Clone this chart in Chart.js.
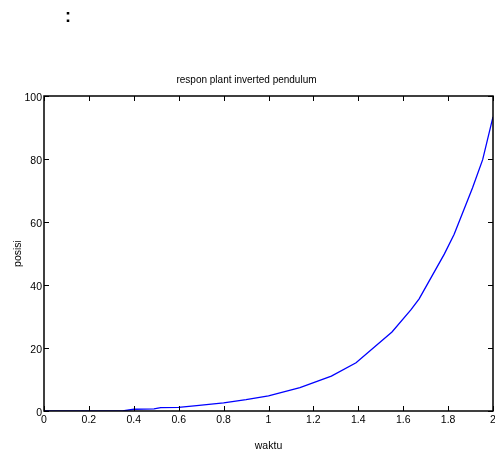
<!DOCTYPE html>
<html>
<head>
<meta charset="utf-8">
<script src="https://cdn.jsdelivr.net/npm/chart.js@4"></script>
<style>
  body { margin: 0; background: #fff; }
  #wrap { position: relative; width: 495px; height: 452px; }
  #colon { position: absolute; left: 65px; top: 6px; font: bold 18px 'Liberation Sans', Arial, sans-serif; color: #000; }
</style>
</head>
<body>
<div id="wrap">
  <div id="colon">:</div>
  <canvas id="chart1" width="495" height="452"></canvas>
</div>
<script>
/************* data ********* */
const waktu = [0, 0.1, 0.2, 0.3, 0.35, 0.4, 0.49, 0.52, 0.6, 0.68, 0.8, 0.9, 1.0, 1.14, 1.28, 1.39, 1.55, 1.634, 1.671, 1.783, 1.827, 1.909, 1.954, 2.0];
const posisi = [0, 0, 0, 0, 0, 0.55, 0.7, 1.05, 1.15, 1.7, 2.6, 3.6, 4.8, 7.4, 11.1, 15.3, 25.1, 32.1, 35.6, 49.8, 56.1, 70.9, 79.8, 93.4];
const xTicks = [0, 0.2, 0.4, 0.6, 0.8, 1, 1.2, 1.4, 1.6, 1.8, 2];
const yTicks = [0, 20, 40, 60, 80, 100];

const fontFam = "'Liberation Sans', Arial, sans-serif";
const points = waktu.map((t, i) => ({ x: t, y: posisi[i] }));

// matlab style box with inward ticks
const boxTicks = {
    id: 'boxTicks',
    afterDatasetsDraw(chart) {
        const ctx = chart.ctx;
        const a = chart.chartArea;
        const xs = chart.scales.x;
        const ys = chart.scales.y;
        const len = 5;
        ctx.save();
        ctx.strokeStyle = '#000';
        ctx.lineWidth = 1;
        ctx.beginPath();
        xTicks.forEach(v => {
            const px = Math.round(xs.getPixelForValue(v)) + 0.5;
            ctx.moveTo(px, a.bottom); ctx.lineTo(px, a.bottom - len);
            ctx.moveTo(px, a.top); ctx.lineTo(px, a.top + len);
        });
        yTicks.forEach(v => {
            const py = Math.round(ys.getPixelForValue(v)) + 0.5;
            ctx.moveTo(a.left, py); ctx.lineTo(a.left + len, py);
            ctx.moveTo(a.right, py); ctx.lineTo(a.right - len, py);
        });
        ctx.stroke();
        ctx.lineWidth = 1.5;
        ctx.strokeRect(a.left, a.top, a.right - a.left, a.bottom - a.top);
        ctx.restore();
    }
};

new Chart("chart1", {
    type: "line",
    data: {
        datasets: [{
            data: points,
            borderColor: '#0000FF',
            borderWidth: 1.3,
            pointRadius: 0,
            tension: 0,
            fill: false
        }]
    },
    options: {
        responsive: false,
        animation: false,
        layout: { padding: { left: 0, right: 2, top: 0, bottom: 0 } },
        plugins: {
            legend: { display: false },
            tooltip: { enabled: false },
            title: {
                display: true,
                text: 'respon plant inverted pendulum',
                color: '#000',
                font: { family: fontFam, size: 10, weight: 'normal' },
                padding: { top: 74, bottom: 10 }
            }
        },
        scales: {
            x: {
                type: 'linear',
                min: 0,
                max: 2,
                afterFit(scale) { scale.height = 41; scale.paddingLeft = 0; scale.paddingRight = 0; },
                afterBuildTicks(scale) { scale.ticks = xTicks.map(v => ({ value: v })); },
                grid: { display: false, drawTicks: false },
                border: { display: false },
                ticks: {
                    color: '#000',
                    padding: 3,
                    maxRotation: 0,
                    autoSkip: false,
                    font: { family: fontFam, size: 10.5 },
                    callback: v => String(Math.round(v * 10) / 10)
                },
                title: {
                    display: true,
                    text: 'waktu',
                    color: '#000',
                    font: { family: fontFam, size: 10.5 },
                    padding: { top: 0, bottom: 0 }
                }
            },
            y: {
                type: 'linear',
                min: 0,
                max: 100,
                afterFit(scale) { scale.width = 44; },
                afterBuildTicks(scale) { scale.ticks = yTicks.map(v => ({ value: v })); },
                grid: { display: false, drawTicks: false },
                border: { display: false },
                ticks: {
                    color: '#000',
                    padding: 2,
                    labelOffset: 2,
                    font: { family: fontFam, size: 10.5 }
                },
                title: {
                    display: true,
                    text: 'posisi',
                    color: '#000',
                    font: { family: fontFam, size: 10.5 },
                    padding: { top: 12, bottom: 0 }
                }
            }
        }
    },
    plugins: [boxTicks]
});
</script>
</body>
</html>
